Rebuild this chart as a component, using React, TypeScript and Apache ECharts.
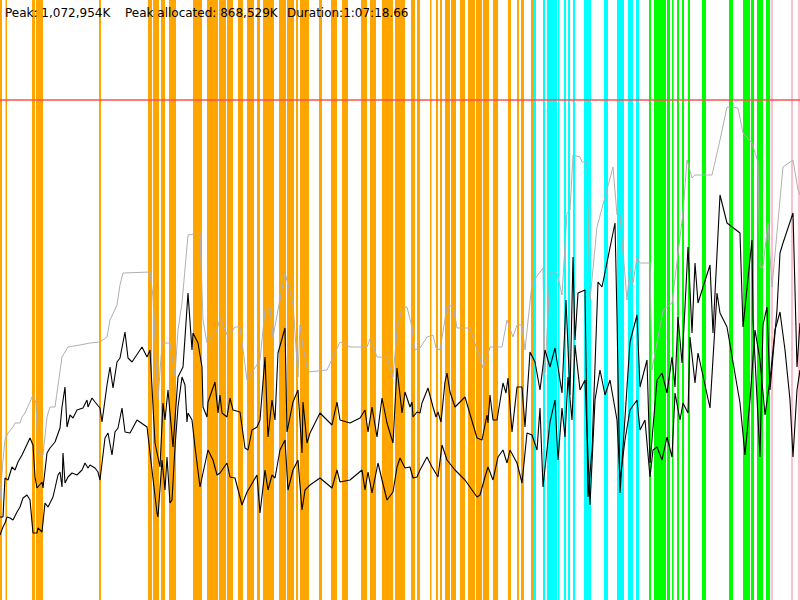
import React, { useEffect, useRef } from "react";
import * as echarts from "echarts";

// Time axis: 0..800 sample units; memory axis: 0..600 units (red limit at 500)
const limitLevel = 500;

const headerTexts = ["Peak: 1,072,954K", "Peak allocated: 868,529K", "Duration:1:07:18.66"];

// GC event intervals [start, end]
const orangeEvents: number[][] = [
  [0, 2], [5.5, 7], [32, 35], [36, 43], [99, 101], [148, 152], [153, 159], [161, 165], [169, 176],
  [193, 202], [207, 218], [219, 226], [227, 233], [238, 243], [247, 254], [257, 260], [263, 274],
  [279, 286], [287, 294], [296, 298], [300, 309], [319, 322], [331, 337], [342, 348], [361, 367],
  [370, 376], [382, 393], [395, 405], [411, 415], [417, 420], [430, 431.5], [436, 438], [440, 442],
  [445, 450], [451, 456], [460, 465], [468, 475], [476, 482], [483, 489], [493, 498], [508, 511],
  [517, 519], [521, 524], [531, 534],
];
const cyanEvents: number[][] = [
  [534, 536], [543, 545], [547, 557], [558, 559.5], [564, 566], [568, 570], [573, 575], [584, 591],
  [604, 608], [617, 624], [628, 633], [636, 639],
];
const greenEvents: number[][] = [
  [649, 651], [654, 666], [667, 670], [672, 673.5], [677, 679], [682, 684], [688, 690], [702, 706],
  [729, 733], [743, 750], [751, 754], [757, 763], [766, 770],
];
const pinkEvents: number[][] = [[771, 773], [791, 793], [798, 800]];

const committed: number[][] = [
  [0,100],[3,140],[5,160],[8,167],[13,173],[15,177],[20,177],[22,183],[25,187],[33,205],[36,197],[38,147],[43,145],[47,183],[50,193],[55,193],[62,243],[68,253],[80,255],[90,257],[100,258],[107,263],[110,280],[117,295],[120,315],[123,327],[150,328],[153,303],[158,200],[162,257],[170,257],[175,225],[178,270],[182,297],[188,365],[200,367],[203,280],[207,257],[217,270],[220,282],[228,263],[235,273],[240,273],[247,220],[260,240],[265,290],[270,292],[273,263],[278,290],[285,327],[293,297],[298,223],[300,275],[303,253],[308,228],[327,230],[340,258],[350,253],[367,253],[370,261],[377,243],[387,243],[393,223],[397,270],[402,292],[407,293],[412,273],[415,250],[420,252],[427,263],[433,265],[436,252],[440,250],[447,293],[453,295],[457,272],[470,272],[483,232],[490,253],[502,253],[507,280],[513,263],[517,275],[522,275],[525,250],[532,317],[543,332],[545,227],[550,327],[557,327],[562,305],[567,387],[570,390],[573,445],[580,443],[582,438],[587,438],[590,300],[597,373],[613,433],[617,385],[620,385],[627,300],[630,333],[633,317],[637,343],[640,337],[650,337],[652,230],[663,290],[672,297],[683,387],[687,440],[692,422],[695,425],[712,425],[720,460],[727,493],[738,492],[743,467],[752,457],[758,438],[760,333],[763,333],[768,377],[772,313],[783,433],[793,440],[798,410],[800,405],
];

const used: number[][] = [
  [0,83],[3,83],[5,122],[8,120],[12,133],[15,130],[18,138],[22,145],[30,162],[33,155],[35,123],[37,112],[42,118],[43,112],[47,147],[50,152],[55,158],[60,172],[62,193],[65,213],[67,173],[70,185],[73,182],[77,190],[83,192],[87,200],[88,193],[92,202],[95,198],[100,192],[102,178],[107,215],[110,233],[113,212],[117,238],[120,242],[125,268],[128,242],[132,238],[138,247],[142,253],[147,243],[150,250],[155,157],[160,133],[163,197],[165,180],[168,210],[173,153],[178,223],[183,233],[188,307],[192,250],[193,267],[198,257],[202,233],[203,193],[207,183],[208,198],[215,218],[218,187],[220,205],[222,187],[227,183],[230,202],[233,190],[240,188],[245,152],[248,150],[252,170],[257,173],[260,180],[265,243],[268,163],[272,200],[275,180],[278,247],[285,272],[287,168],[293,198],[298,210],[302,147],[303,198],[307,157],[310,167],[320,187],[332,175],[337,198],[340,180],[350,177],[360,182],[365,190],[368,168],[372,193],[377,163],[382,202],[387,177],[393,157],[397,232],[402,187],[405,208],[410,193],[412,198],[413,183],[417,188],[420,187],[422,197],[428,212],[433,193],[436,183],[438,188],[441,178],[445,218],[447,227],[450,208],[455,193],[465,203],[477,162],[482,160],[487,185],[488,177],[490,205],[493,180],[497,180],[503,217],[506,207],[508,222],[512,168],[517,213],[522,213],[525,173],[530,248],[535,238],[540,210],[545,250],[550,233],[555,252],[562,207],[566,300],[570,205],[573,343],[575,260],[578,307],[585,310],[588,103],[592,150],[598,318],[602,313],[615,377],[617,283],[620,107],[630,258],[637,285],[640,213],[647,240],[650,137],[657,220],[662,227],[667,207],[672,243],[675,213],[678,283],[682,237],[685,293],[688,353],[692,267],[695,337],[698,297],[710,335],[713,267],[720,405],[727,377],[740,367],[743,273],[752,360],[753,280],[760,143],[763,275],[767,293],[770,210],[777,290],[780,347],[783,357],[793,387],[797,233],[800,277],
];

const allocated: number[][] = [
  [0,65],[3,73],[5,77],[7,83],[10,82],[13,80],[17,88],[20,93],[23,102],[27,105],[30,100],[33,67],[37,67],[38,72],[42,68],[45,97],[48,93],[53,103],[58,125],[60,128],[62,113],[63,147],[65,117],[68,123],[72,127],[77,125],[82,130],[85,137],[88,132],[90,135],[95,132],[98,128],[100,120],[105,162],[108,167],[112,145],[115,168],[118,172],[122,192],[125,168],[130,167],[137,180],[147,173],[152,130],[157,87],[158,83],[162,140],[165,110],[167,143],[170,97],[172,100],[175,153],[178,193],[182,223],[185,215],[187,178],[188,187],[192,180],[195,153],[200,113],[203,127],[208,150],[213,140],[217,125],[220,127],[227,137],[230,123],[235,122],[242,95],[247,108],[250,113],[257,125],[260,87],[265,130],[268,110],[272,125],[275,122],[280,150],[285,160],[288,110],[293,130],[298,140],[302,90],[305,110],[310,115],[320,122],[332,112],[337,130],[340,118],[350,120],[362,130],[365,110],[368,128],[372,107],[378,137],[382,120],[387,100],[393,108],[397,133],[400,142],[405,132],[410,133],[413,122],[417,123],[420,130],[427,143],[432,133],[438,123],[442,155],[447,140],[455,130],[465,120],[477,103],[480,105],[485,123],[488,133],[493,120],[498,143],[503,150],[507,137],[510,150],[517,137],[522,117],[527,167],[532,165],[537,150],[540,192],[543,113],[550,178],[555,200],[558,140],[562,192],[565,163],[568,223],[572,180],[575,255],[580,210],[585,220],[590,95],[595,200],[600,230],[605,205],[610,220],[617,180],[620,120],[625,160],[630,190],[637,200],[640,170],[645,180],[650,123],[653,150],[657,153],[662,140],[667,163],[672,143],[675,207],[680,180],[683,197],[688,187],[690,263],[695,217],[698,247],[710,192],[717,307],[720,287],[727,273],[740,197],[745,145],[750,200],[755,270],[760,240],[765,185],[770,220],[775,270],[780,288],[785,250],[790,200],[793,143],[797,210],[800,230],
];

function bandSeries(data: number[][], color: string) {
  return {
    type: "custom",
    data,
    encode: { x: [0, 1] },
    silent: true,
    z: 1,
    renderItem: (params: any, api: any) => {
      const s = api.coord([api.value(0), 0]);
      const e = api.coord([api.value(1), 0]);
      const cs = params.coordSys;
      return {
        type: "rect",
        shape: { x: s[0], y: cs.y, width: Math.max(1.5, e[0] - s[0]), height: cs.height },
        style: { fill: color },
      };
    },
  };
}

function lineSeries(data: number[][], color: string, width: number, z: number) {
  return {
    type: "line",
    data,
    showSymbol: false,
    symbol: "none",
    silent: true,
    z,
    lineStyle: { color, width },
  };
}

export default function App() {
  const ref = useRef<HTMLDivElement>(null);
  useEffect(() => {
    if (!ref.current) return;
    const chart = echarts.init(ref.current, undefined, { renderer: "svg" });
    const font = '12px "DejaVu Sans", sans-serif';
    chart.setOption({
      animation: false,
      backgroundColor: "#ffffff",
      grid: { left: 0, right: 0, top: 0, bottom: 0 },
      xAxis: { type: "value", min: 0, max: 800, show: false },
      yAxis: { type: "value", min: 0, max: 600, show: false },
      series: [
        bandSeries(orangeEvents, "#ffa500"),
        bandSeries(cyanEvents, "#00ffff"),
        bandSeries(greenEvents, "#00ff00"),
        bandSeries(pinkEvents, "#ffc0cb"),
        lineSeries(committed, "#b0b0b0", 1, 3),
        lineSeries(allocated, "#000000", 1.1, 4),
        lineSeries(used, "#000000", 1.1, 4),
        lineSeries([[0, limitLevel], [800, limitLevel]], "#ff5050", 1.5, 5),
      ],
      graphic: [
        { type: "text", x: 5, y: 13, z: 10, style: { text: headerTexts[0], font, fill: "#000", textVerticalAlign: "middle" } },
        { type: "text", x: 125, y: 13, z: 10, style: { text: headerTexts[1], font, fill: "#000", textVerticalAlign: "middle" } },
        { type: "text", x: 287, y: 13, z: 10, style: { text: headerTexts[2], font, fill: "#000", textVerticalAlign: "middle" } },
      ],
    });
    return () => chart.dispose();
  }, []);
  return <div ref={ref} style={{ position: "fixed", left: 0, top: 0, width: 800, height: 600 }} />;
}
